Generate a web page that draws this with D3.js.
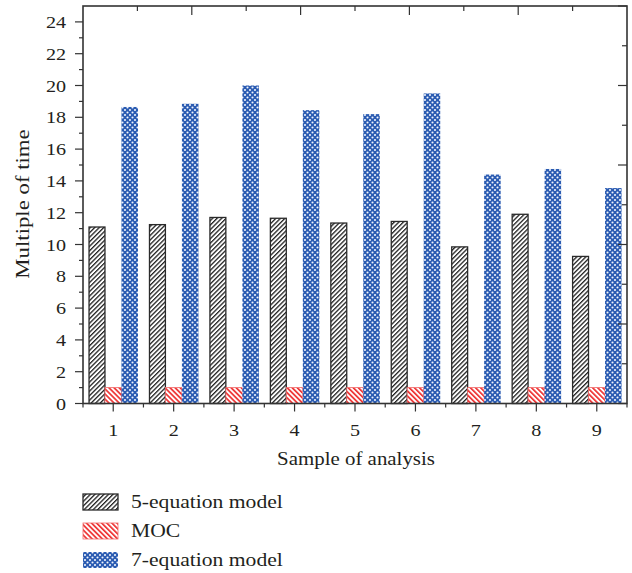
<!DOCTYPE html>
<html><head><meta charset="utf-8">
<script src="https://cdn.jsdelivr.net/npm/d3@7"></script>
<style>
body{margin:0;background:#fff;}
svg{display:block;}
</style>
</head><body>
<svg id="chart" width="632" height="573"></svg>
<script>
const categories = [1, 2, 3, 4, 5, 6, 7, 8, 9];
const seriesNames = ["5-equation model", "MOC", "7-equation model"];
const fiveEq = [11.1, 11.25, 11.7, 11.65, 11.35, 11.45, 9.85, 11.9, 9.25];
const moc = [1, 1, 1, 1, 1, 1, 1, 1, 1];
const sevenEq = [18.65, 18.85, 20.0, 18.45, 18.2, 19.5, 14.4, 14.75, 13.55];
const yMajorTicks = [0, 2, 4, 6, 8, 10, 12, 14, 16, 18, 20, 22, 24];
const xLabel = "Sample of analysis";
const yLabel = "Multiple of time";

const seriesValues = [fiveEq, moc, sevenEq];
const svg = d3.select("#chart");
const L = 83, R = 627, T = 6, B = 403.5;
const FONT = "'Liberation Serif','DejaVu Serif',serif";
const axisColor = "#333";

// patterns
const defs = svg.append("defs");
const p1 = defs.append("pattern").attr("id", "pBlack").attr("patternUnits", "userSpaceOnUse")
  .attr("width", 3.2).attr("height", 3.2).attr("patternTransform", "rotate(45)");
p1.append("rect").attr("width", 3.2).attr("height", 3.2).attr("fill", "#fff");
p1.append("rect").attr("width", 1.3).attr("height", 3.2).attr("fill", "#222");
const p2 = defs.append("pattern").attr("id", "pRed").attr("patternUnits", "userSpaceOnUse")
  .attr("width", 3.6).attr("height", 3.6).attr("patternTransform", "rotate(-45)");
p2.append("rect").attr("width", 3.6).attr("height", 3.6).attr("fill", "#fff");
p2.append("rect").attr("width", 1.7).attr("height", 3.6).attr("fill", "#ee3333");
const PB = 5;
const p3 = defs.append("pattern").attr("id", "pBlue").attr("patternUnits", "userSpaceOnUse")
  .attr("width", PB).attr("height", PB);
p3.append("rect").attr("width", PB).attr("height", PB).attr("fill", "#2a5bb2");
[[0,0],[PB,0],[0,PB],[PB,PB],[PB/2,PB/2]].forEach(([cx,cy]) =>
  p3.append("circle").attr("cx", cx).attr("cy", cy).attr("r", 1.05).attr("fill", "#f0f4fb"));
const fills = ["url(#pBlack)", "url(#pRed)", "url(#pBlue)"];
const strokes = ["#2a2a2a", "#f06a6a", "none"];

const x = d3.scaleBand().domain(categories).range([L, R]).paddingInner(0.18).paddingOuter(0.09);
const xs = d3.scaleBand().domain(d3.range(seriesNames.length)).range([0, x.bandwidth()]);
const y = d3.scaleLinear().domain([0, 25]).range([B, T]);

// bars
seriesValues.forEach((vals, si) => {
  svg.append("g").selectAll("rect").data(vals).join("rect")
    .attr("x", (d, i) => x(categories[i]) + xs(si) + (si === 0 ? 0.6 : 0))
    .attr("y", d => y(d))
    .attr("width", xs.bandwidth() - (si === 0 ? 0.6 : 0))
    .attr("height", d => y(0) - y(d))
    .attr("fill", fills[si])
    .attr("stroke", strokes[si])
    .attr("stroke-width", si === 0 ? 1.3 : 0.8);
});

function stext(g, tx, ty, str, size, anchor, sx, rot) {
  return g.append("text")
    .attr("transform", `translate(${tx},${ty})` + (rot ? ` rotate(${rot})` : "") + ` scale(${sx},1)`)
    .attr("text-anchor", anchor).attr("font-family", FONT).attr("font-size", size)
    .attr("fill", "#231f20").text(str);
}

const ax = svg.append("g");
// left axis ticks
d3.range(0, 25).forEach(v => {
  const major = v % 2 === 0;
  ax.append("line").attr("x1", L - (major ? 8 : 4)).attr("x2", L).attr("y1", y(v)).attr("y2", y(v))
    .attr("stroke", axisColor).attr("stroke-width", 1.2);
});
yMajorTicks.forEach(v => stext(ax, L - 17, y(v) + 6, String(v), 17.5, "end", 1.15));
// right axis ticks (inward)
d3.range(0, 25.01, 2.5).forEach(v => {
  const major = Math.abs(v % 5) < 1e-6;
  ax.append("line").attr("x1", R - (major ? 9 : 5)).attr("x2", R).attr("y1", y(v)).attr("y2", y(v))
    .attr("stroke", axisColor).attr("stroke-width", 1.2);
});
// top axis ticks (inward)
d3.range(1, 10).forEach(i => {
  const xx = L + (R - L) * i / 10;
  ax.append("line").attr("x1", xx).attr("x2", xx).attr("y1", T).attr("y2", T + (i % 2 === 0 ? 9 : 5))
    .attr("stroke", axisColor).attr("stroke-width", 1.2);
});
// bottom axis ticks
categories.forEach(c => {
  const cx = x(c) + x.bandwidth() / 2;
  ax.append("line").attr("x1", cx).attr("x2", cx).attr("y1", B).attr("y2", B + 8)
    .attr("stroke", axisColor).attr("stroke-width", 1.2);
  stext(ax, cx, B + 32, String(c), 17.5, "middle", 1.15);
});
d3.range(0, categories.length + 1).forEach(i => {
  const bx = L + x.step() * i;
  ax.append("line").attr("x1", bx).attr("x2", bx).attr("y1", B).attr("y2", B + 4)
    .attr("stroke", axisColor).attr("stroke-width", 1.2);
});
// frame
ax.append("rect").attr("x", L).attr("y", T).attr("width", R - L).attr("height", B - T)
  .attr("fill", "none").attr("stroke", axisColor).attr("stroke-width", 1.6);

// axis labels
stext(svg, (L + R) / 2 + 1, 465, xLabel, 19, "middle", 1.1);
stext(svg, 29, 204, yLabel, 19, "middle", 1.2, -90);

// legend
const lg = svg.append("g");
const legY = [494, 523, 552];
seriesNames.forEach((n, i) => {
  lg.append("rect").attr("x", 83).attr("y", legY[i]).attr("width", 35).attr("height", 16)
    .attr("fill", fills[i]).attr("stroke", strokes[i]).attr("stroke-width", i === 0 ? 1.3 : 0.8);
  stext(lg, 131, legY[i] + 14, n, 19.3, "start", 1.12);
});
</script>
</body></html>
